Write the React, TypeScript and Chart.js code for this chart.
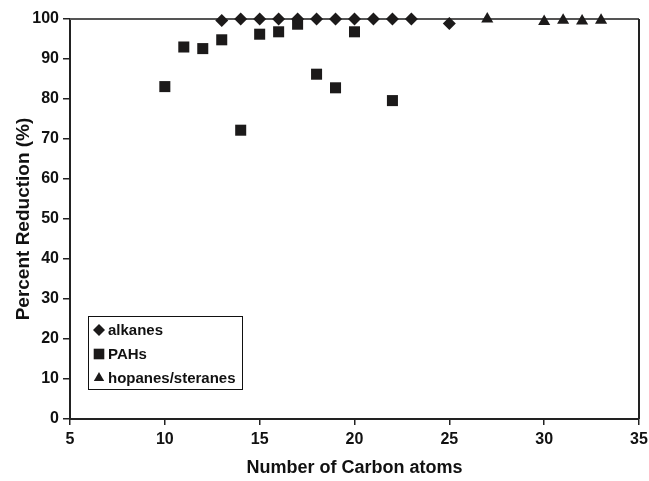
import React, { useEffect, useRef } from "react";
import { Chart, registerables } from "chart.js";

Chart.register(...registerables);

const alkanesX = [13, 14, 15, 16, 17, 18, 19, 20, 21, 22, 23, 25];
const alkanesY = [99.6, 100, 100, 100, 100, 100, 100, 100, 100, 100, 100, 98.9];
const pahsX = [10, 11, 12, 13, 14, 15, 16, 17, 18, 19, 20, 22];
const pahsY = [83.1, 93.0, 92.6, 94.8, 72.2, 96.2, 96.8, 98.7, 86.2, 82.8, 96.8, 79.6];
const hopX = [27, 30, 31, 32, 33];
const hopY = [100, 99.4, 99.7, 99.5, 99.7];
const seriesNames = ["alkanes", "PAHs", "hopanes/steranes"];
const pointStyles = ["rectRot", "rect", "triangle"];
const pointRadii = [6.5, 7.8, 7];

const toPts = (xs: number[], ys: number[]) => xs.map((x, i) => ({ x, y: ys[i] }));

const MARK = "#1c1a1a";
const FONT = "Arial, 'Liberation Sans', sans-serif";

const framePlugin = {
  id: "frame",
  beforeDatasetsDraw(chart: any) {
    const { ctx, chartArea } = chart;
    ctx.save();
    ctx.strokeStyle = "#555";
    ctx.lineWidth = 2;
    ctx.beginPath();
    ctx.moveTo(chartArea.left, chartArea.top);
    ctx.lineTo(chartArea.right, chartArea.top);
    ctx.stroke();
    ctx.strokeStyle = "#222";
    ctx.beginPath();
    ctx.moveTo(chartArea.right, chartArea.top);
    ctx.lineTo(chartArea.right, chartArea.bottom);
    ctx.stroke();
    ctx.restore();
  },
  afterDraw(chart: any) {
    const { ctx } = chart;
    const bx = 88, by = 316, bw = 154, bh = 73;
    ctx.save();
    ctx.fillStyle = "#fff";
    ctx.fillRect(bx, by, bw, bh);
    ctx.strokeStyle = "#111";
    ctx.lineWidth = 1;
    ctx.strokeRect(bx + 0.5, by + 0.5, bw, bh);
    ctx.font = `bold 15px ${FONT}`;
    ctx.textBaseline = "middle";
    seriesNames.forEach((name, i) => {
      const cy = by + 14 + i * 24;
      const style = pointStyles[i];
      const r = i === 1 ? 7.5 : 6;
      const cx = 99;
      ctx.fillStyle = MARK;
      ctx.beginPath();
      if (style === "rectRot") {
        ctx.moveTo(cx - r, cy);
        ctx.lineTo(cx, cy - r);
        ctx.lineTo(cx + r, cy);
        ctx.lineTo(cx, cy + r);
      } else if (style === "rect") {
        const s = r * Math.SQRT1_2;
        ctx.rect(cx - s, cy - s, 2 * s, 2 * s);
      } else {
        ctx.moveTo(cx, cy - r);
        ctx.lineTo(cx + r * 0.866, cy + r * 0.5);
        ctx.lineTo(cx - r * 0.866, cy + r * 0.5);
      }
      ctx.closePath();
      ctx.fill();
      ctx.fillStyle = "#111";
      ctx.fillText(name, 108, cy + 1);
    });
    ctx.restore();
  },
};

export default function App() {
  const ref = useRef<HTMLCanvasElement>(null);
  useEffect(() => {
    document.body.style.margin = "0";
    const ys = [alkanesY, pahsY, hopY];
    const xs = [alkanesX, pahsX, hopX];
    const chart = new Chart(ref.current!, {
      type: "scatter",
      data: {
        datasets: seriesNames.map((name, i) => ({
          label: name,
          data: toPts(xs[i], ys[i]),
          pointStyle: pointStyles[i] as any,
          pointRadius: pointRadii[i],
          pointHoverRadius: pointRadii[i],
          backgroundColor: MARK,
          borderColor: MARK,
          borderWidth: 0,
          clip: false as any,
        })),
      },
      options: {
        animation: false,
        responsive: false,
        layout: { padding: { top: 19, right: 10, left: 0, bottom: 0 } },
        plugins: { legend: { display: false }, tooltip: { enabled: false } },
        scales: {
          x: {
            type: "linear",
            min: 5,
            max: 35,
            ticks: { stepSize: 5, color: "#111", font: { family: FONT, size: 16, weight: "bold" }, padding: 5, maxRotation: 0 },
            grid: { drawOnChartArea: false, color: "#222", tickLength: 6, lineWidth: 1.5 },
            border: { color: "#222", width: 2 },
            title: { display: true, text: "Number of Carbon atoms", color: "#111", font: { family: FONT, size: 18, weight: "bold" }, padding: { top: 8, bottom: 2 } },
            afterFit: (s: any) => { s.height = 62; s.paddingRight = 0; s.paddingLeft = 0; },
          },
          y: {
            min: 0,
            max: 100,
            ticks: { stepSize: 10, color: "#111", font: { family: FONT, size: 16, weight: "bold" }, padding: 4 },
            grid: { drawOnChartArea: false, color: "#222", tickLength: 7, lineWidth: 1.5 },
            border: { color: "#222", width: 2 },
            title: { display: true, text: "Percent Reduction (%)", color: "#111", font: { family: FONT, size: 19, weight: "bold" }, padding: { top: 12, bottom: 4 } },
            afterFit: (s: any) => { s.width = 70; s.paddingTop = 0; s.paddingBottom = 0; },
          },
        },
      },
      plugins: [framePlugin],
    });
    return () => chart.destroy();
  }, []);
  return <canvas ref={ref} width={649} height={481} style={{ display: "block", width: 649, height: 481 }} />;
}
